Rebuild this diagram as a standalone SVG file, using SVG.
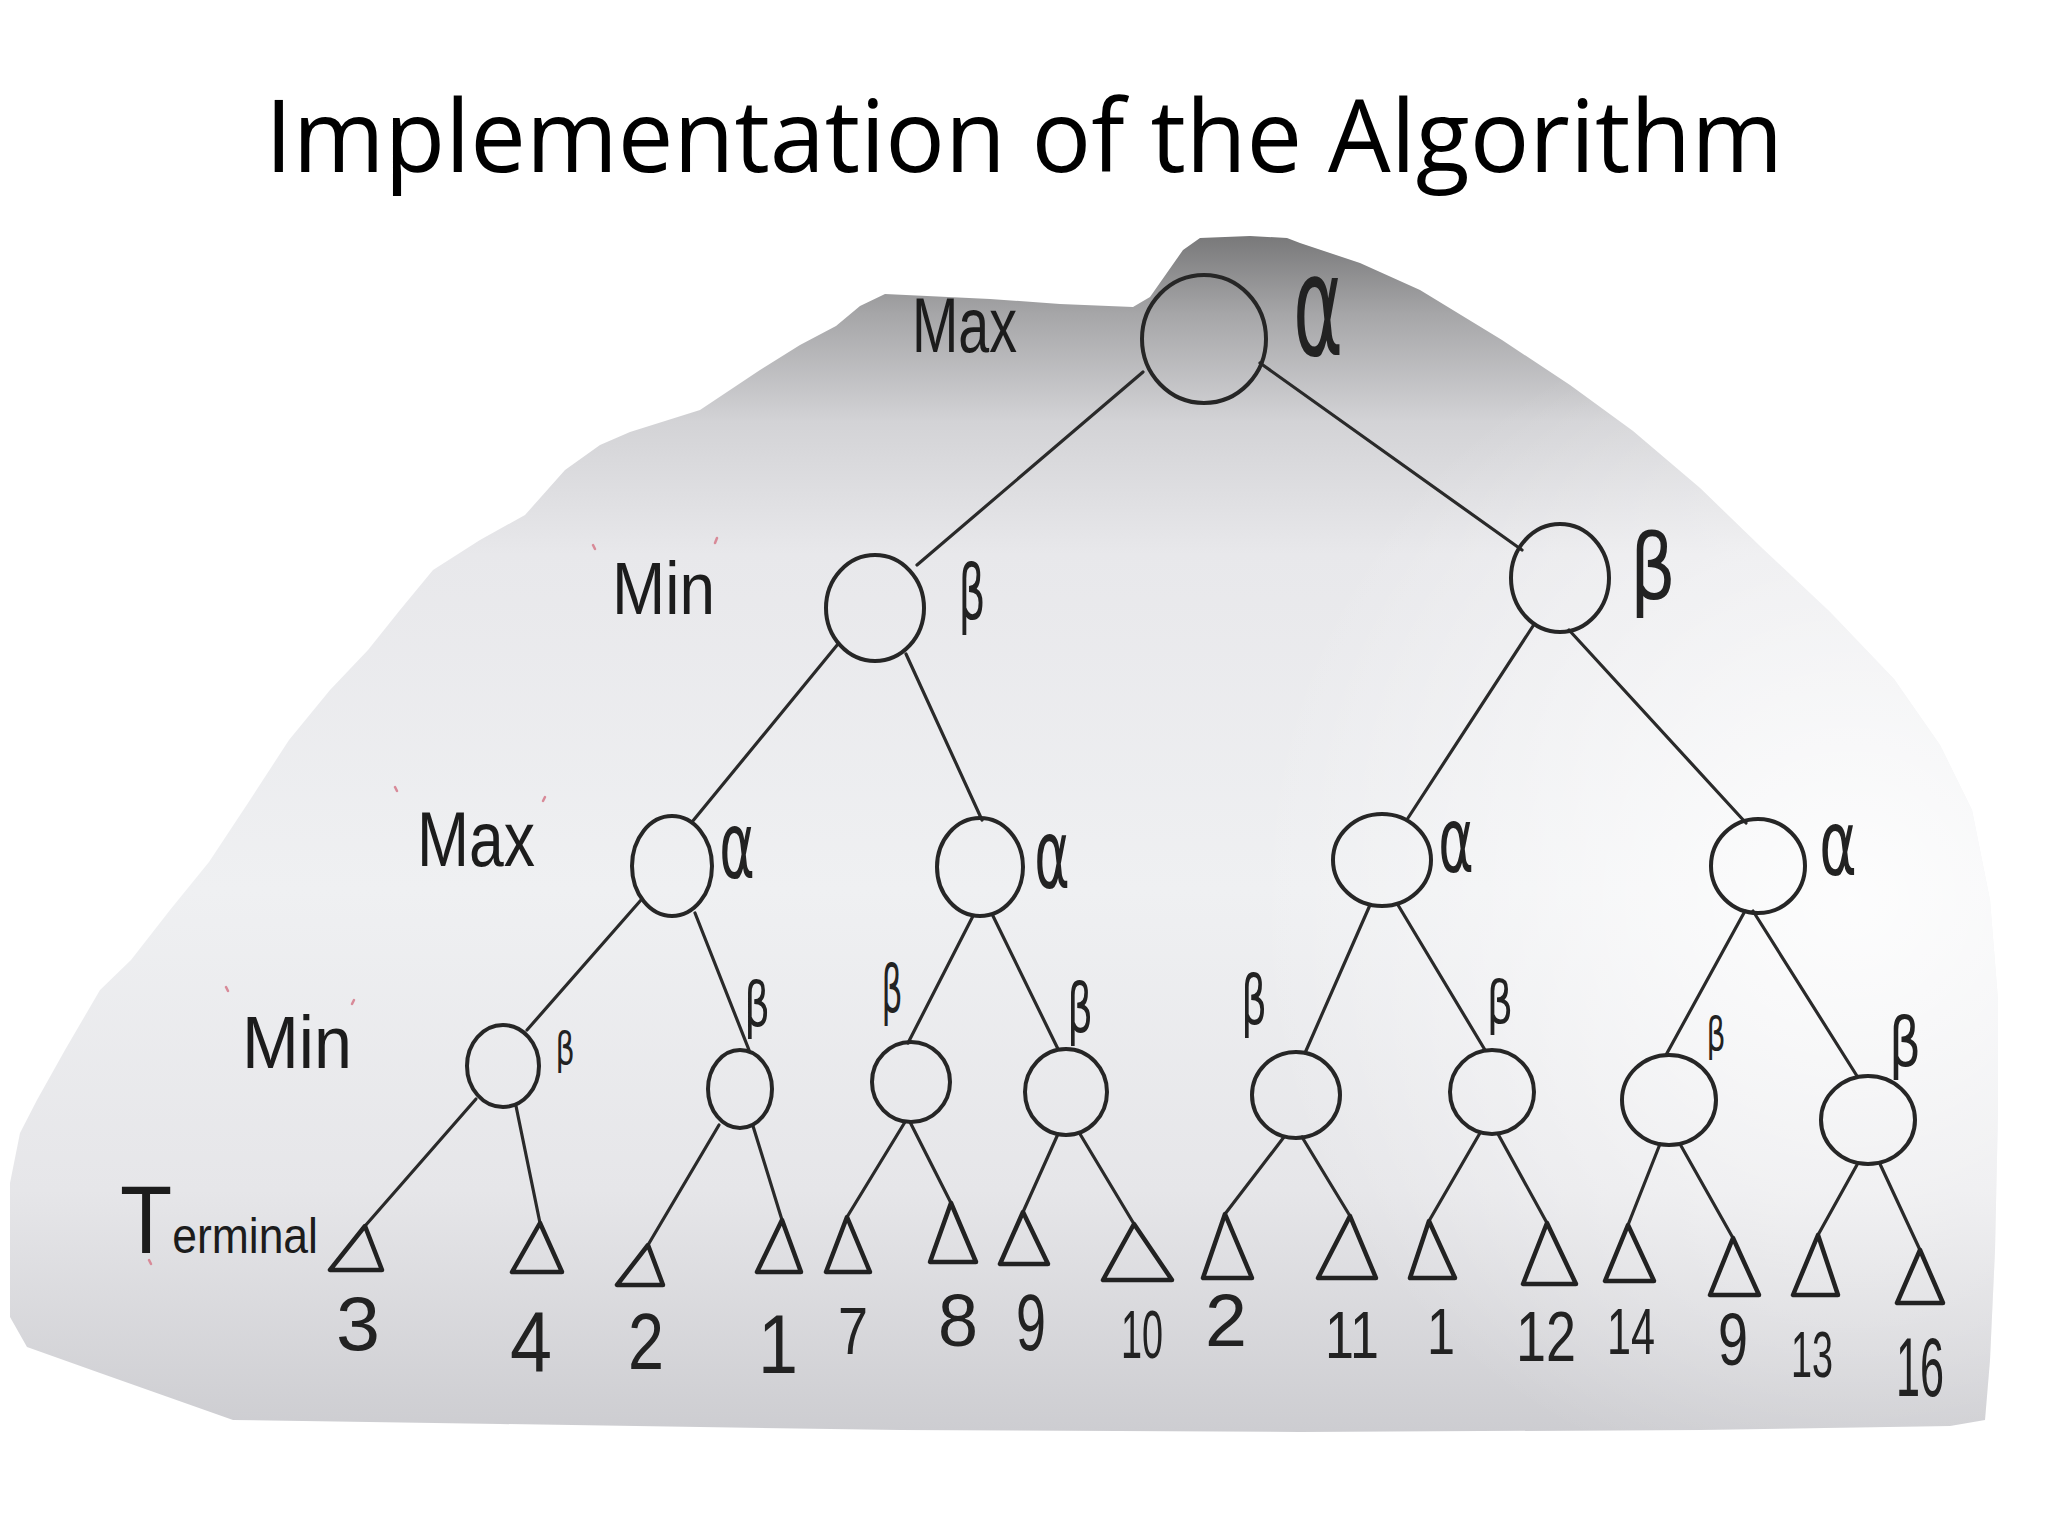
<svg xmlns="http://www.w3.org/2000/svg" width="2048" height="1536" viewBox="0 0 2048 1536">
<defs>
<linearGradient id="paper" gradientUnits="userSpaceOnUse" x1="0" y1="230" x2="0" y2="1430">
<stop offset="0" stop-color="#757576"/>
<stop offset="0.07" stop-color="#a6a6a8"/>
<stop offset="0.16" stop-color="#d3d3d6"/>
<stop offset="0.27" stop-color="#e8e8eb"/>
<stop offset="0.55" stop-color="#eff0f2"/>
<stop offset="0.8" stop-color="#e6e6e9"/>
<stop offset="1" stop-color="#cdcdd1"/>
</linearGradient>
<radialGradient id="glare" gradientUnits="userSpaceOnUse" cx="1850" cy="900" r="600">
<stop offset="0" stop-color="#ffffff" stop-opacity="0.85"/>
<stop offset="1" stop-color="#ffffff" stop-opacity="0"/>
</radialGradient>
<path id="blob" d="M836,326 L860,306 L885,294 L990,299 L1060,304 L1133,307 L1150,297 L1183,250 L1200,238 L1250,236 L1287,238 L1300,243 L1360,263 L1420,290 L1502,340 L1570,385 L1633,431 L1700,488 L1763,549 L1830,612 L1894,679 L1940,745 L1972,810 L1990,900 L1998,1000 L1998,1110 L1995,1250 L1990,1360 L1985,1420 L1950,1426 L1700,1430 L1300,1432 L900,1430 L500,1424 L233,1420 L100,1373 L27,1347 L10,1317 L10,1183 L20,1133 L37,1100 L65,1050 L100,990 L131,960 L170,910 L209,862 L250,800 L289,740 L330,690 L368,650 L400,610 L433,570 L480,540 L525,515 L565,470 L600,445 L630,432 L700,410 L760,370 L800,345 Z"/>
</defs>
<style>
.node ellipse{fill:none;stroke:#262626;stroke-width:4}
.edges line{stroke:#2a2a2a;stroke-width:3.2;stroke-linecap:round}
.tri{fill:none;stroke:#222;stroke-width:4.5;stroke-linejoin:round}
.hand{font-family:"Liberation Sans",Arial,sans-serif;fill:#1c1c1c}
.greek{font-family:"DejaVu Sans",sans-serif;fill:#222;text-anchor:middle}
.val{font-family:"Liberation Sans",Arial,sans-serif;fill:#222;text-anchor:middle}
.title{font-family:"Open Sans","Liberation Sans",sans-serif;fill:#000}
.mark{stroke:#d88a98;stroke-width:2.5;stroke-linecap:round}
</style>
<rect width="2048" height="1536" fill="#ffffff"/>
<use href="#blob" fill="url(#paper)"/>
<use href="#blob" fill="url(#glare)"/>

<text class="title" x="265" y="172" font-size="101" textLength="1518" lengthAdjust="spacingAndGlyphs">Implementation of the Algorithm</text>

<g id="level-labels">
<text class="hand" x="912" y="352" font-size="78" textLength="105" lengthAdjust="spacingAndGlyphs">Max</text>
<text class="hand" x="612" y="614" font-size="74" textLength="103" lengthAdjust="spacingAndGlyphs">Min</text>
<text class="hand" x="417" y="866" font-size="78" textLength="118" lengthAdjust="spacingAndGlyphs">Max</text>
<text class="hand" x="242" y="1068" font-size="74" textLength="110" lengthAdjust="spacingAndGlyphs">Min</text>
<text class="hand" x="120" y="1253" textLength="198" lengthAdjust="spacingAndGlyphs"><tspan font-size="96">T</tspan><tspan font-size="50">erminal</tspan></text>
<g class="mark">
<line x1="593" y1="545" x2="595" y2="549"/><line x1="717" y1="538" x2="715" y2="543"/>
<line x1="395" y1="787" x2="397" y2="791"/><line x1="545" y1="797" x2="543" y2="801"/>
<line x1="226" y1="987" x2="228" y2="991"/><line x1="354" y1="1000" x2="352" y2="1004"/>
<line x1="149" y1="1260" x2="151" y2="1264"/>
</g>
</g>

<g id="connectors" class="edges">
<line x1="1143" y1="372" x2="917" y2="565"/>
<line x1="1260" y1="363" x2="1522" y2="550"/>
<line x1="838" y1="644" x2="692" y2="822"/>
<line x1="906" y1="654" x2="982" y2="820"/>
<line x1="1533" y1="626" x2="1408" y2="818"/>
<line x1="1569" y1="630" x2="1746" y2="823"/>
<line x1="641" y1="900" x2="527" y2="1030"/>
<line x1="695" y1="913" x2="749" y2="1050"/>
<line x1="973" y1="916" x2="908" y2="1043"/>
<line x1="993" y1="916" x2="1058" y2="1049"/>
<line x1="1370" y1="905" x2="1305" y2="1053"/>
<line x1="1398" y1="905" x2="1485" y2="1050"/>
<line x1="1745" y1="911" x2="1666" y2="1055"/>
<line x1="1753" y1="911" x2="1857" y2="1076"/>
<line x1="476" y1="1099" x2="365" y2="1226"/>
<line x1="516" y1="1106" x2="540" y2="1223"/>
<line x1="719" y1="1125" x2="648" y2="1245"/>
<line x1="753" y1="1126" x2="782" y2="1220"/>
<line x1="905" y1="1122" x2="847" y2="1217"/>
<line x1="910" y1="1122" x2="951" y2="1203"/>
<line x1="1058" y1="1134" x2="1023" y2="1212"/>
<line x1="1080" y1="1134" x2="1134" y2="1224"/>
<line x1="1284" y1="1137" x2="1225" y2="1214"/>
<line x1="1302" y1="1137" x2="1350" y2="1216"/>
<line x1="1480" y1="1133" x2="1429" y2="1221"/>
<line x1="1498" y1="1134" x2="1547" y2="1223"/>
<line x1="1660" y1="1144" x2="1628" y2="1225"/>
<line x1="1680" y1="1144" x2="1733" y2="1238"/>
<line x1="1858" y1="1163" x2="1818" y2="1235"/>
<line x1="1880" y1="1164" x2="1920" y2="1250"/>
</g>

<g id="root" class="node"><ellipse cx="1204" cy="339" rx="62" ry="64"/><text class="greek" font-size="80" transform="translate(1318,355) scale(0.95,1.75)">α</text></g>
<g id="min-left" class="node"><ellipse cx="875" cy="608" rx="49" ry="53"/><text class="greek" font-size="77" transform="translate(972,619) scale(0.55,1)">β</text></g>
<g id="min-right" class="node"><ellipse cx="1560" cy="578" rx="49" ry="54"/><text class="greek" font-size="90" transform="translate(1653,599) scale(0.8,1)">β</text></g>

<g id="max-a" class="node"><ellipse cx="672" cy="866" rx="40" ry="50"/><text class="greek" font-size="60" transform="translate(737,878) scale(0.9,1.55)">α</text></g>
<g id="max-b" class="node"><ellipse cx="980" cy="867" rx="43" ry="49"/><text class="greek" font-size="60" transform="translate(1052,888) scale(0.9,1.6)">α</text></g>
<g id="max-c" class="node"><ellipse cx="1382" cy="860" rx="49" ry="46"/><text class="greek" font-size="60" transform="translate(1456,872) scale(0.9,1.5)">α</text></g>
<g id="max-d" class="node"><ellipse cx="1758" cy="866" rx="47" ry="47"/><text class="greek" font-size="60" transform="translate(1838,875) scale(0.95,1.5)">α</text></g>

<g id="min-1" class="node"><ellipse cx="503" cy="1066" rx="36" ry="41"/><text class="greek" font-size="45" transform="translate(565,1064) scale(0.67,1)">β</text></g>
<g id="min-2" class="node"><ellipse cx="740" cy="1089" rx="32" ry="39"/><text class="greek" font-size="62" transform="translate(757,1026) scale(0.65,1)">β</text></g>
<g id="min-3" class="node"><ellipse cx="911" cy="1082" rx="39" ry="40"/><text class="greek" font-size="66" transform="translate(892,1012) scale(0.5,1)">β</text></g>
<g id="min-4" class="node"><ellipse cx="1066" cy="1092" rx="41" ry="43"/><text class="greek" font-size="67" transform="translate(1080,1032) scale(0.6,1)">β</text></g>
<g id="min-5" class="node"><ellipse cx="1296" cy="1095" rx="44" ry="43"/><text class="greek" font-size="67" transform="translate(1254,1024) scale(0.6,1)">β</text></g>
<g id="min-6" class="node"><ellipse cx="1492" cy="1092" rx="42" ry="42"/><text class="greek" font-size="59" transform="translate(1500,1023) scale(0.7,1)">β</text></g>
<g id="min-7" class="node"><ellipse cx="1669" cy="1100" rx="47" ry="45"/><text class="greek" font-size="46" transform="translate(1716,1050) scale(0.65,1)">β</text></g>
<g id="min-8" class="node"><ellipse cx="1868" cy="1120" rx="47" ry="44"/><text class="greek" font-size="67" transform="translate(1905,1066) scale(0.75,1)">β</text></g>

<g id="t1"><polygon class="tri" points="365,1226 330,1270 382,1270"/><text class="val" x="358" y="1350" font-size="76" textLength="44" lengthAdjust="spacingAndGlyphs">3</text></g>
<g id="t2"><polygon class="tri" points="540,1223 512,1272 562,1272"/><text class="val" x="531" y="1371" font-size="86" textLength="42" lengthAdjust="spacingAndGlyphs">4</text></g>
<g id="t3"><polygon class="tri" points="648,1245 617,1285 663,1285"/><text class="val" x="646" y="1369" font-size="80" textLength="36" lengthAdjust="spacingAndGlyphs">2</text></g>
<g id="t4"><polygon class="tri" points="782,1220 757,1272 801,1272"/><text class="val" x="778" y="1373" font-size="84" textLength="40" lengthAdjust="spacingAndGlyphs">1</text></g>
<g id="t5"><polygon class="tri" points="847,1217 826,1272 870,1272"/><text class="val" x="853" y="1354" font-size="66" textLength="30" lengthAdjust="spacingAndGlyphs">7</text></g>
<g id="t6"><polygon class="tri" points="951,1203 930,1262 976,1262"/><text class="val" x="958" y="1346" font-size="75" textLength="40" lengthAdjust="spacingAndGlyphs">8</text></g>
<g id="t7"><polygon class="tri" points="1023,1212 1000,1264 1048,1264"/><text class="val" x="1031" y="1350" font-size="80" textLength="30" lengthAdjust="spacingAndGlyphs">9</text></g>
<g id="t8"><polygon class="tri" points="1134,1224 1103,1280 1172,1280"/><text class="val" x="1142" y="1358" font-size="68" textLength="42" lengthAdjust="spacingAndGlyphs">10</text></g>
<g id="t9"><polygon class="tri" points="1225,1214 1203,1278 1252,1278"/><text class="val" x="1226" y="1346" font-size="75" textLength="42" lengthAdjust="spacingAndGlyphs">2</text></g>
<g id="t10"><polygon class="tri" points="1350,1216 1318,1278 1376,1278"/><text class="val" x="1352" y="1358" font-size="66" textLength="54" lengthAdjust="spacingAndGlyphs">11</text></g>
<g id="t11"><polygon class="tri" points="1429,1221 1410,1278 1455,1278"/><text class="val" x="1441" y="1354" font-size="64" textLength="28" lengthAdjust="spacingAndGlyphs">1</text></g>
<g id="t12"><polygon class="tri" points="1547,1223 1523,1284 1576,1284"/><text class="val" x="1546" y="1361" font-size="70" textLength="60" lengthAdjust="spacingAndGlyphs">12</text></g>
<g id="t13"><polygon class="tri" points="1628,1225 1605,1281 1654,1281"/><text class="val" x="1631" y="1354" font-size="64" textLength="48" lengthAdjust="spacingAndGlyphs">14</text></g>
<g id="t14"><polygon class="tri" points="1733,1238 1710,1295 1759,1295"/><text class="val" x="1733" y="1365" font-size="75" textLength="30" lengthAdjust="spacingAndGlyphs">9</text></g>
<g id="t15"><polygon class="tri" points="1818,1235 1793,1295 1838,1295"/><text class="val" x="1812" y="1377" font-size="64" textLength="42" lengthAdjust="spacingAndGlyphs">13</text></g>
<g id="t16"><polygon class="tri" points="1920,1250 1897,1303 1943,1303"/><text class="val" x="1920" y="1396" font-size="84" textLength="48" lengthAdjust="spacingAndGlyphs">16</text></g>
</svg>
